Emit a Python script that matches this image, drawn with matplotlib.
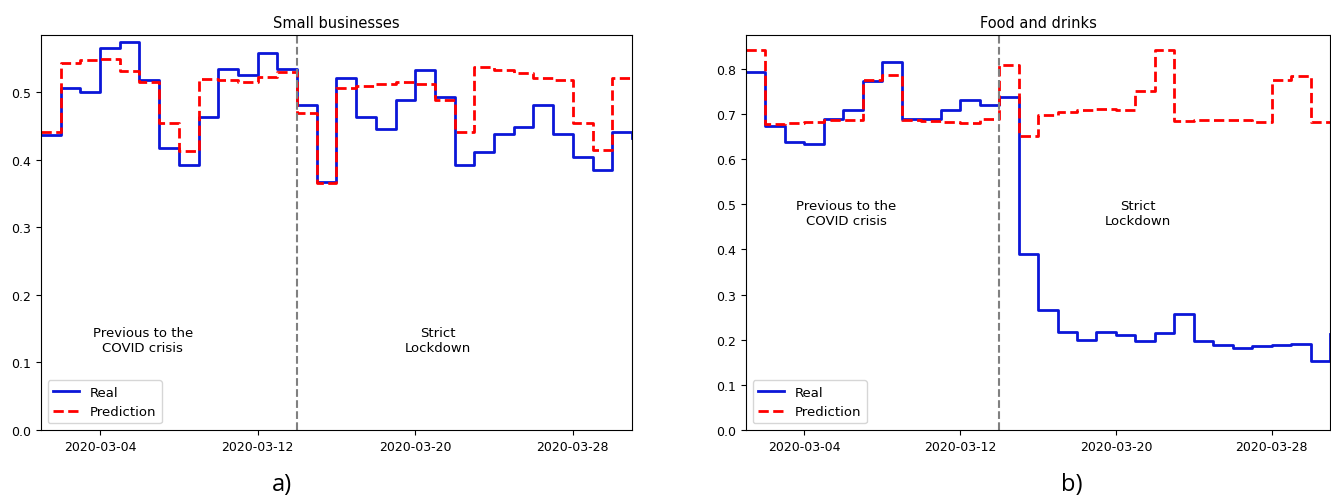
import numpy as np
import pandas as pd
import matplotlib
matplotlib.use("Agg")
import matplotlib.pyplot as plt
import matplotlib.dates as mdates

# daily values, 2020-03-01 .. 2020-03-31
dates = pd.date_range("2020-03-01", "2020-03-31", freq="D")
lockdown_day = pd.Timestamp("2020-03-14")

small_real = [0.437, 0.506, 0.500, 0.565, 0.575, 0.519, 0.418, 0.392, 0.463, 0.534,
              0.526, 0.558, 0.534, 0.482, 0.367, 0.521, 0.463, 0.446, 0.489, 0.533,
              0.493, 0.392, 0.411, 0.438, 0.448, 0.482, 0.438, 0.405, 0.385, 0.441,
              0.432]
small_pred = [0.441, 0.544, 0.548, 0.550, 0.532, 0.516, 0.454, 0.413, 0.520, 0.519,
              0.515, 0.522, 0.530, 0.469, 0.366, 0.506, 0.509, 0.513, 0.516, 0.512,
              0.488, 0.441, 0.538, 0.533, 0.528, 0.521, 0.519, 0.455, 0.414, 0.521,
              0.521]

food_real = [0.793, 0.674, 0.637, 0.634, 0.688, 0.709, 0.773, 0.815, 0.689, 0.689,
             0.709, 0.732, 0.719, 0.737, 0.389, 0.266, 0.217, 0.200, 0.217, 0.211,
             0.197, 0.214, 0.256, 0.197, 0.188, 0.182, 0.185, 0.188, 0.191, 0.153,
             0.213]
food_pred = [0.841, 0.678, 0.680, 0.682, 0.687, 0.687, 0.776, 0.787, 0.687, 0.685,
             0.683, 0.680, 0.688, 0.809, 0.651, 0.698, 0.704, 0.708, 0.711, 0.709,
             0.750, 0.841, 0.684, 0.687, 0.687, 0.687, 0.683, 0.776, 0.785, 0.682,
             0.682]

panels = [
    ("Small businesses", small_real, small_pred, 0.585, 0.133, "a)"),
    ("Food and drinks", food_real, food_pred, 0.875, 0.481, "b)"),
]

fig = plt.figure(figsize=(13.31, 5.02), dpi=100)
ax_a = fig.add_axes([0.0308, 0.1414, 0.444, 0.787])
ax_b = fig.add_axes([0.5605, 0.1414, 0.4388, 0.787])

for ax, (title, real, pred, ytop, ytext, tag) in zip([ax_a, ax_b], panels):
    ax.step(dates, real, where="post", color="#0b16d8", lw=2, label="Real")
    ax.step(dates, pred, where="post", color="#ff0000", lw=2, ls="--", label="Prediction")
    ax.axvline(lockdown_day, color="grey", ls="--", lw=1.5)

    ax.set_xlim(dates[0], dates[-1])
    ax.set_ylim(0, ytop)
    ax.xaxis.set_major_locator(mdates.DayLocator(bymonthday=[4, 12, 20, 28]))
    ax.xaxis.set_major_formatter(mdates.DateFormatter("%Y-%m-%d"))
    ax.tick_params(labelsize=9)
    ax.set_title(title, fontsize=10.5)

    ax.text(pd.Timestamp("2020-03-06 04:00"), ytext, "Previous to the\nCOVID crisis",
            ha="center", va="center", fontsize=9.5)
    ax.text(pd.Timestamp("2020-03-21 03:00"), ytext, "Strict\nLockdown",
            ha="center", va="center", fontsize=9.5)
    ax.legend(loc="lower left", fontsize=9.5)

fig.text(0.2119, 0.034, "a)", ha="center", va="center", fontsize=17, family="Open Sans")
fig.text(0.8054, 0.034, "b)", ha="center", va="center", fontsize=17, family="Open Sans")

fig.savefig("out.png", dpi=100)
